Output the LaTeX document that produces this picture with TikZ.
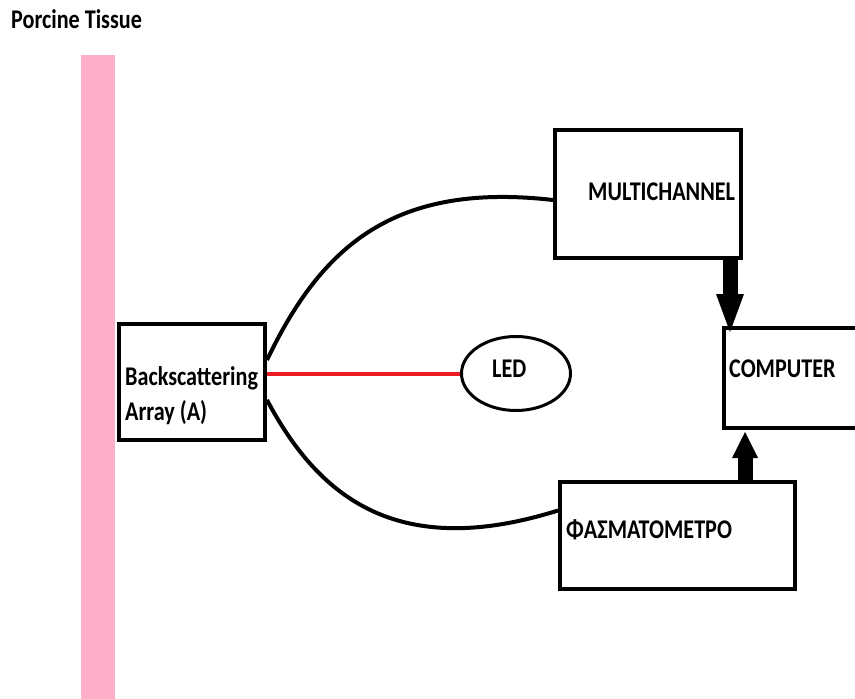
\documentclass[tikz,border=0pt]{standalone}
\usepackage{fontspec}
\setmainfont{Carlito}[FakeStretch=0.82]
\usetikzlibrary{arrows.meta, shapes.geometric}
\tikzset{>=latex}
\definecolor{rose}{RGB}{255,174,201}
\definecolor{paintred}{RGB}{237,28,36}
\tikzset{
  box/.style={draw, line width=4pt, rectangle, inner sep=0pt},
  lbl/.style={font=\bfseries\fontsize{27}{35}\selectfont, inner sep=0pt, anchor=base west},
  cable/.style={line width=4pt},
  fat/.style={line width=15pt}
}

\begin{document}
\begin{tikzpicture}[x=1pt, y=-1pt]
      \useasboundingbox (0,0) rectangle (855,699);
      % tissue strip
      \fill[rose] (81,55) rectangle (115,710);
      \node[lbl] (tissue) at (11,28) {Porcine Tissue};
      % boxes
      \node[box, minimum width=146pt, minimum height=116pt] (array) at (192,382) {};
      \node[box, minimum width=186pt, minimum height=128pt] (multi) at (648,194) {};
      \node[box, minimum width=146pt, minimum height=100pt] (computer) at (797,378) {};
      \node[box, minimum width=235pt, minimum height=107pt] (spectro) at (677.5,535.5) {};
      \node[draw, ellipse, line width=3pt, minimum width=109pt, minimum height=74pt, inner sep=0pt] (led) at (516,373.5) {};
      % labels
      \node[lbl, align=left] (arraytxt) at (125,420) {Backscattering\\Array (A)};
      \node[lbl] (multitxt) at (588,200) {MULTICHANNEL};
      \node[lbl] (comptxt) at (729,377) {COMPUTER};
      \node[lbl] (spectrotxt) at (566,538) {ΦΑΣΜΑΤΟΜΕΤΡΟ};
      \node[lbl] (ledtxt) at (492,377) {LED};
      % connections
      \draw[cable, paintred] (array.east |- led.west) -- (led.west);
      \draw[cable] ([yshift=22pt]array.east) .. controls (322,245) and (395,182) .. ([yshift=-6pt]multi.west);
      \draw[cable] ([yshift=-18pt]array.east) .. controls (320,500) and (400,560) .. ([yshift=25pt]spectro.west);
      \draw[fat, -{Triangle[width=28pt, length=38pt, line width=0pt]}] ([xshift=-13pt]multi.south east) -- ([xshift=8pt, yshift=-6pt]computer.north west);
      \draw[fat, -{Triangle[width=26pt, length=26pt, line width=0pt]}] ([xshift=-52pt]spectro.north east) -- ([xshift=23pt, yshift=-2pt]computer.south west);
    \end{tikzpicture}
\end{document}
